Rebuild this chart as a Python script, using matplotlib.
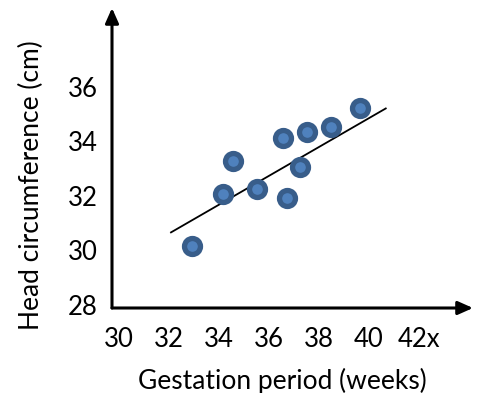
import matplotlib.pyplot as plt

# dati
gestazione = [32.9, 34.17, 34.57, 35.53, 36.55, 36.71, 37.24, 37.51, 38.49, 39.64]
circonferenza = [30.16, 32.07, 33.29, 32.24, 34.1, 31.93, 33.04, 34.33, 34.52, 35.2]
linea_x = [32.08, 40.67]
linea_y = [30.66, 35.2]
xticks = [30, 32, 34, 36, 38, 40, 42]
xtick_labels = ["30", "32", "34", "36", "38", "40", "42x"]
yticks = [28, 30, 32, 34, 36]

plt.rcParams['font.family'] = ['Lato', 'DejaVu Sans']

fig = plt.figure(figsize=(4.79, 3.93), dpi=100)
ax = fig.add_axes([112 / 479, 1 - 308 / 393, 361 / 479, 300 / 393])
ax.set_xlim(29.72, 44.16)
ax.set_ylim(27.89, 38.88)

ax.plot(linea_x, linea_y, color="black", lw=1.3)
ax.plot(gestazione, circonferenza, "o", ms=11.5, mfc="#4F81BD", mec="#385D8A", mew=3.8)

for s in ax.spines.values():
    s.set_visible(False)

# assi con frecce
ax.annotate("", xy=(1, 0), xytext=(0, 0), xycoords="axes fraction",
            arrowprops=dict(arrowstyle="-|>,head_length=0.9,head_width=0.4", color="black", lw=2.2,
                            shrinkA=0, shrinkB=0))
ax.annotate("", xy=(0, 1), xytext=(0, 0), xycoords="axes fraction",
            arrowprops=dict(arrowstyle="-|>,head_length=0.9,head_width=0.4", color="black", lw=2.2,
                            shrinkA=0, shrinkB=0))

ax.set_xticks(xticks)
ax.set_xticklabels(xtick_labels)
ax.set_yticks(yticks)
ax.tick_params(length=0, labelsize=18.5)
ax.tick_params(axis="x", pad=14)
ax.tick_params(axis="y", pad=10)

fig.text(282 / 479, 1 - 381 / 393, "Gestation period (weeks)", fontsize=19, ha="center", va="center")
fig.text(31 / 479, 1 - 185 / 393, "Head circumference (cm)", fontsize=19, ha="center", va="center",
         rotation=90)

plt.savefig("out.png", dpi=100)
